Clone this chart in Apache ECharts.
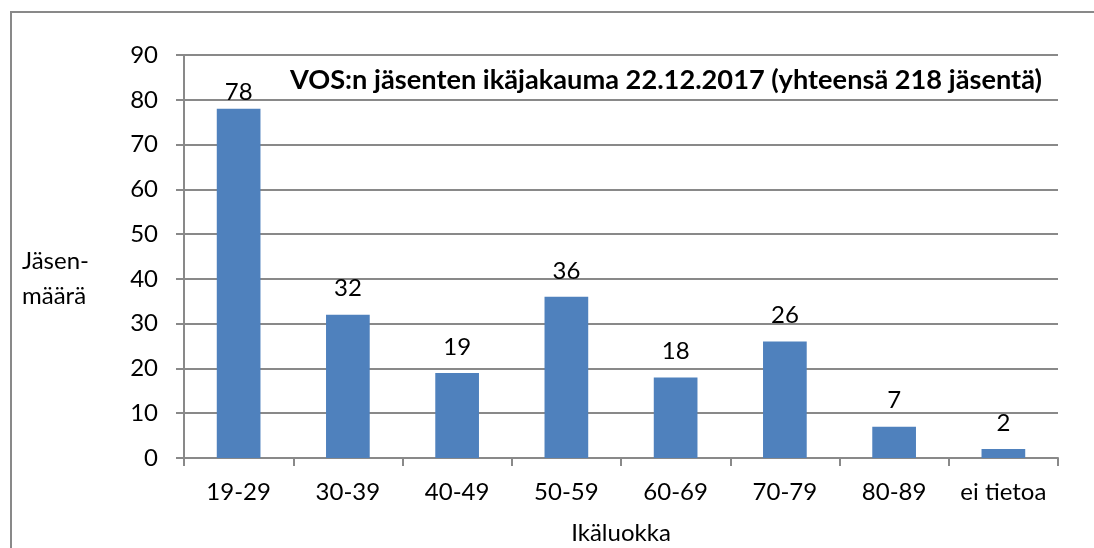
<!DOCTYPE html>
<html>
<head>
<meta charset="utf-8">
<script src="https://cdn.jsdelivr.net/npm/echarts@6/dist/echarts.min.js"></script>
<style>
  html, body { margin: 0; padding: 0; background: #fff; }
  #chart { width: 1094px; height: 548px; }
</style>
</head>
<body>
<div id="chart"></div>
<script>
  // ikäluokat ja jäsenmäärät
  const categories = ['19-29', '30-39', '40-49', '50-59', '60-69', '70-79', '80-89', 'ei tietoa'];
  const members = [78, 32, 19, 36, 18, 26, 7, 2];
  const titleText = 'VOS:n jäsenten ikäjakauma 22.12.2017 (yhteensä 218 jäsentä)';
  const xName = 'Ikäluokka';
  const yName = 'Jäsen-\nmäärä';

  const font = 'Lato, "Open Sans", sans-serif';
  const gray = '#898989';
  const fs = 24;

  let chart = echarts.init(document.getElementById('chart'));
  let option = {
    animation: false,
    backgroundColor: '#fff',
    textStyle: { fontFamily: font, color: '#000' },
    title: {
      text: titleText,
      left: 285,
      top: 62,
      textStyle: { fontFamily: font, fontSize: 27.2, fontWeight: 'bold', color: '#000' }
    },
    graphic: [
      // ulkokehys
      {
        type: 'rect',
        shape: { x: 11, y: 12, width: 1200, height: 700 },
        style: { fill: 'none', stroke: gray, lineWidth: 2 },
        silent: true
      },
      // akselien nimet
      {
        type: 'text',
        x: 621, y: 533,
        style: { text: xName, font: fs + 'px ' + font, fill: '#000', align: 'center', verticalAlign: 'middle' }
      },
      {
        type: 'text',
        x: 22, y: 279,
        style: { text: yName, font: fs + 'px ' + font, fill: '#000', align: 'left', verticalAlign: 'middle', lineHeight: 35 }
      }
    ],
    grid: { left: 184, right: 36, top: 55, bottom: 90, outerBoundsMode: 'none' },
    xAxis: {
      type: 'category',
      data: categories,
      axisLine: { lineStyle: { color: gray, width: 2 } },
      axisTick: { show: true, length: 8, lineStyle: { color: gray, width: 2 } },
      axisLabel: { fontFamily: font, fontSize: fs, color: '#000', margin: 22, interval: 0 }
    },
    yAxis: {
      type: 'value',
      min: 0,
      max: 90,
      interval: 10,
      axisLine: { show: true, lineStyle: { color: gray, width: 2 } },
      axisTick: { show: true, length: 8, lineStyle: { color: gray, width: 2 } },
      axisLabel: { fontFamily: font, fontSize: fs, color: '#000', margin: 26 },
      splitLine: { lineStyle: { color: gray, width: 2 } }
    },
    series: [{
      type: 'bar',
      data: members.map((v, i) => i === 0 ? { value: v, label: { distance: 4 } } : v),
      barWidth: '40%',
      itemStyle: { color: '#4F81BD' },
      label: {
        show: true,
        position: 'top',
        distance: 14,
        fontFamily: font,
        fontSize: fs,
        color: '#000'
      }
    }]
  };
  chart.setOption(option);
</script>
</body>
</html>
